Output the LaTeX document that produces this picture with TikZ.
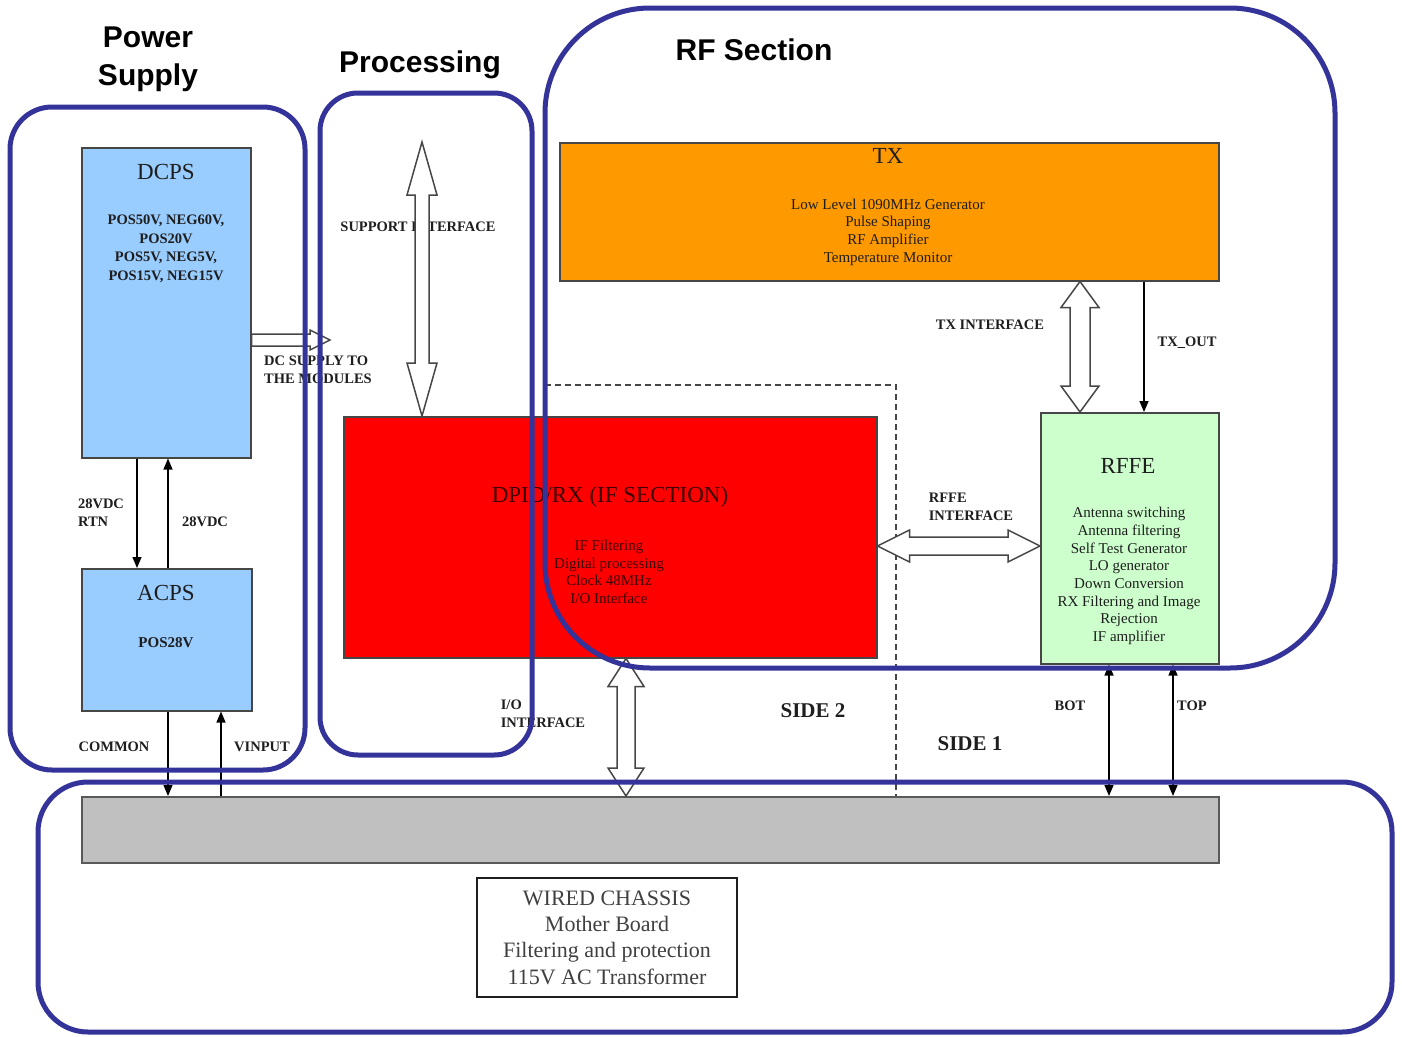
\documentclass[tikz,border=0pt]{standalone}
\usepackage{fontspec}
\setmainfont{Liberation Serif}
\newfontfamily\headfont{Liberation Sans}
\usetikzlibrary{arrows.meta,calc}
\definecolor{grpblue}{RGB}{51,51,153}
\definecolor{dcblue}{RGB}{153,204,255}
\definecolor{txorange}{RGB}{255,153,0}
\definecolor{rfgreen}{RGB}{204,255,204}
\definecolor{chgray}{RGB}{192,192,192}
\definecolor{edgec}{RGB}{70,70,70}
\definecolor{ink}{RGB}{30,30,30}
\definecolor{redink}{RGB}{60,0,0}

\tikzset{
 box/.style={draw=edgec, line width=1.5pt, anchor=north west, inner sep=0pt},
 group/.style={draw=grpblue, line width=5pt},
 grouptitle/.style={font=\headfont\bfseries\fontsize{30}{38}\selectfont, text=black, align=center, inner sep=0pt},
 lbl/.style={font=\bfseries\fontsize{14.5}{18}\selectfont, text=ink, inner sep=0pt, align=left},
 boxtitle/.style={font=\fontsize{23}{27}\selectfont, text=ink, inner sep=0pt},
 body/.style={font=\fontsize{15}{17.7}\selectfont, align=center, text=ink, inner sep=0pt},
 conn/.style={draw=black, line width=1.2pt, -{Triangle[length=11pt,width=9pt]}},
 biconn/.style={draw=black, line width=1.2pt, {Triangle[length=11pt,width=9pt]}-{Triangle[length=11pt,width=9pt]}},
 barrow/.style={draw=edgec, line width=1.5pt, fill=white, line join=miter},
}
% vertical double block arrow: top, bottom, shaft half, head half, head length
\newcommand\vdblarrow[5]{\draw[barrow] (#1) -- ++(#4,#5) -- ++({-(#4-#3)},0) -- ($(#2)+(#3,-#5)$) -- ++({#4-#3},0) -- (#2) -- ++(-#4,-#5) -- ++({#4-#3},0) -- ($(#1)+(-#3,#5)$) -- ++({-(#4-#3)},0) -- cycle;}
% horizontal double block arrow: left, right, shaft half, head half, head length
\newcommand\hdblarrow[5]{\draw[barrow] (#1) -- ++(#5,-#4) -- ++(0,{#4-#3}) -- ($(#2)+(-#5,-#3)$) -- ++(0,{-(#4-#3)}) -- (#2) -- ++(-#5,#4) -- ++(0,{-(#4-#3)}) -- ($(#1)+(#5,#3)$) -- ++(0,{#4-#3}) -- cycle;}
% horizontal single block arrow: left, right(tip), shaft half, head half, head length
\newcommand\hsglarrow[5]{\draw[barrow] ($(#1)+(0,-#3)$) -- ($(#2)+(-#5,-#3)$) -- ++(0,{-(#4-#3)}) -- (#2) -- ++(-#5,#4) -- ++(0,{-(#4-#3)}) -- ($(#1)+(0,#3)$) -- cycle;}

\begin{document}
\begin{tikzpicture}[x=1pt,y=-1pt]
\useasboundingbox (0,0) rectangle (1402,1036);

% ---- boxes
\node[box, fill=dcblue, minimum width=169pt, minimum height=310pt] (dcps) at (81,147) {};
\node[box, fill=dcblue, minimum width=170pt, minimum height=142pt] (acps) at (81,568) {};
\node[box, fill=red, minimum width=533pt, minimum height=241pt] (dpid) at (343,416) {};
\node[box, fill=txorange, minimum width=659pt, minimum height=138pt] (tx) at (559,142) {};
\node[box, fill=rfgreen, minimum width=178pt, minimum height=251pt] (rffe) at (1040,412) {};
\node[box, fill=chgray, draw=gray!70!black, minimum width=1137pt, minimum height=66pt] (chassis) at (81,796) {};
\node[draw=ink, line width=1.5pt, fill=white, minimum width=260pt, minimum height=119pt, inner sep=0pt,
      font=\fontsize{22}{26.3}\selectfont, align=center, text=ink!85] (wired) at (607,937.5)
      {WIRED CHASSIS\\Mother Board\\Filtering and protection\\115V AC Transformer};

% ---- box texts
\node[boxtitle] (dcpsT) at (166,172) {DCPS};
\node[lbl, align=center, font=\bfseries\fontsize{14.5}{18.5}\selectfont] (dcpsB) at (166,249) {POS50V, NEG60V,\\POS20V\\POS5V, NEG5V,\\POS15V, NEG15V};
\node[boxtitle] (acpsT) at (166,593) {ACPS};
\node[lbl, font=\bfseries\fontsize{15}{18}\selectfont] (acpsB) at (166,643) {POS28V};
\node[boxtitle] (txT) at (888,156) {TX};
\node[body] (txB) at (888,232) {Low Level 1090MHz Generator\\Pulse Shaping\\RF Amplifier\\Temperature Monitor};
\node[boxtitle] (rffeT) at (1128,466) {RFFE};
\node[body] (rffeB) at (1129,576) {Antenna switching\\Antenna filtering\\Self Test Generator\\LO generator\\Down Conversion\\RX Filtering and Image\\Rejection\\IF amplifier};
\node[boxtitle, text=redink] (dpidT) at (610,497) {DPID/RX (IF SECTION)};
\node[body, text=redink] (dpidB) at (609,572) {IF Filtering\\Digital processing\\Clock 48MHz\\I/O Interface};

% ---- dashed side separator
\coordinate (dsA) at (545,385);
\coordinate (dsB) at (896,385);
\draw[edgec, line width=1.3pt, dash pattern=on 6pt off 4pt] (dsA) -- (dsB) -- (chassis.north -| dsB);

% ---- thin connectors
\draw[conn] (dcps.south -| 137,0) -- (acps.north -| 137,0);
\draw[conn] (acps.north -| 168,0) -- (dcps.south -| 168,0);
\draw[conn] (acps.south -| 168,0) -- (chassis.north -| 168,0);
\draw[conn] (chassis.north -| 221,0) -- (acps.south -| 221,0);
\draw[conn] (tx.south -| 1144,0) -- (rffe.north -| 1144,0);
\draw[biconn] (rffe.south -| 1109,0) -- (chassis.north -| 1109,0);
\draw[biconn] (rffe.south -| 1173,0) -- (chassis.north -| 1173,0);

% ---- labels
\node[lbl] (l28rtn) at (101,513) {28VDC\\RTN};
\node[lbl] (l28) at (205,522) {28VDC};
\node[lbl] (lcommon) at (114,747) {COMMON};
\node[lbl] (lvinput) at (262,747) {VINPUT};
\node[lbl] (ldcs) at (318,370) {DC SUPPLY TO\\THE MODULES};
\node[lbl] (lsupport) at (418,227) {SUPPORT INTERFACE};
\node[lbl] (ltxif) at (990,325) {TX INTERFACE};
\node[lbl] (ltxout) at (1187,343) {TX\_OUT};
\node[lbl] (lrffeif) at (971,507) {RFFE\\INTERFACE};
\node[lbl] (lio) at (543,714) {I/O\\INTERFACE};
\node[lbl] (lbot) at (1070,706) {BOT};
\node[lbl] (ltop) at (1192,706) {TOP};
\node[lbl, font=\bfseries\fontsize{21}{24}\selectfont] (lside2) at (813,711) {SIDE 2};
\node[lbl, font=\bfseries\fontsize{21}{24}\selectfont] (lside1) at (970,744) {SIDE 1};

% ---- block arrows
\coordinate (siT) at (422,142);
\coordinate (siB) at (dpid.north -| siT);
\vdblarrow{siT}{siB}{7}{15}{53}
\coordinate (txiT) at (tx.south -| 1080,0);
\coordinate (txiB) at (rffe.north -| 1080,0);
\vdblarrow{txiT}{txiB}{10}{19}{26}
\coordinate (rfiL) at (dpid.east |- 0,546);
\coordinate (rfiR) at (rffe.west |- 0,546);
\hdblarrow{rfiL}{rfiR}{9}{16}{32}
\coordinate (ioT) at (dpid.south -| 626,0);
\coordinate (ioB) at (chassis.north -| 626,0);
\vdblarrow{ioT}{ioB}{9}{18}{28}
\coordinate (dcL) at (dcps.east |- 0,340);
\coordinate (dcR) at (330,340);
\hsglarrow{dcL}{dcR}{6}{10}{20}

% ---- group outlines
\draw[group, rounded corners=42pt] (10,107) rectangle (305,770);
\draw[group, rounded corners=38pt] (320,93) rectangle (532,755);
\draw[group, rounded corners=105pt] (545,8) rectangle (1335,668);
\draw[group, rounded corners=50pt] (38,782) rectangle (1392,1032);

% ---- group titles
\node[grouptitle] (tpower) at (148,59) {Power\\Supply};
\node[grouptitle] (tproc) at (420,65) {Processing};
\node[grouptitle] (trf) at (754,50) {RF Section};
\end{tikzpicture}
\end{document}
